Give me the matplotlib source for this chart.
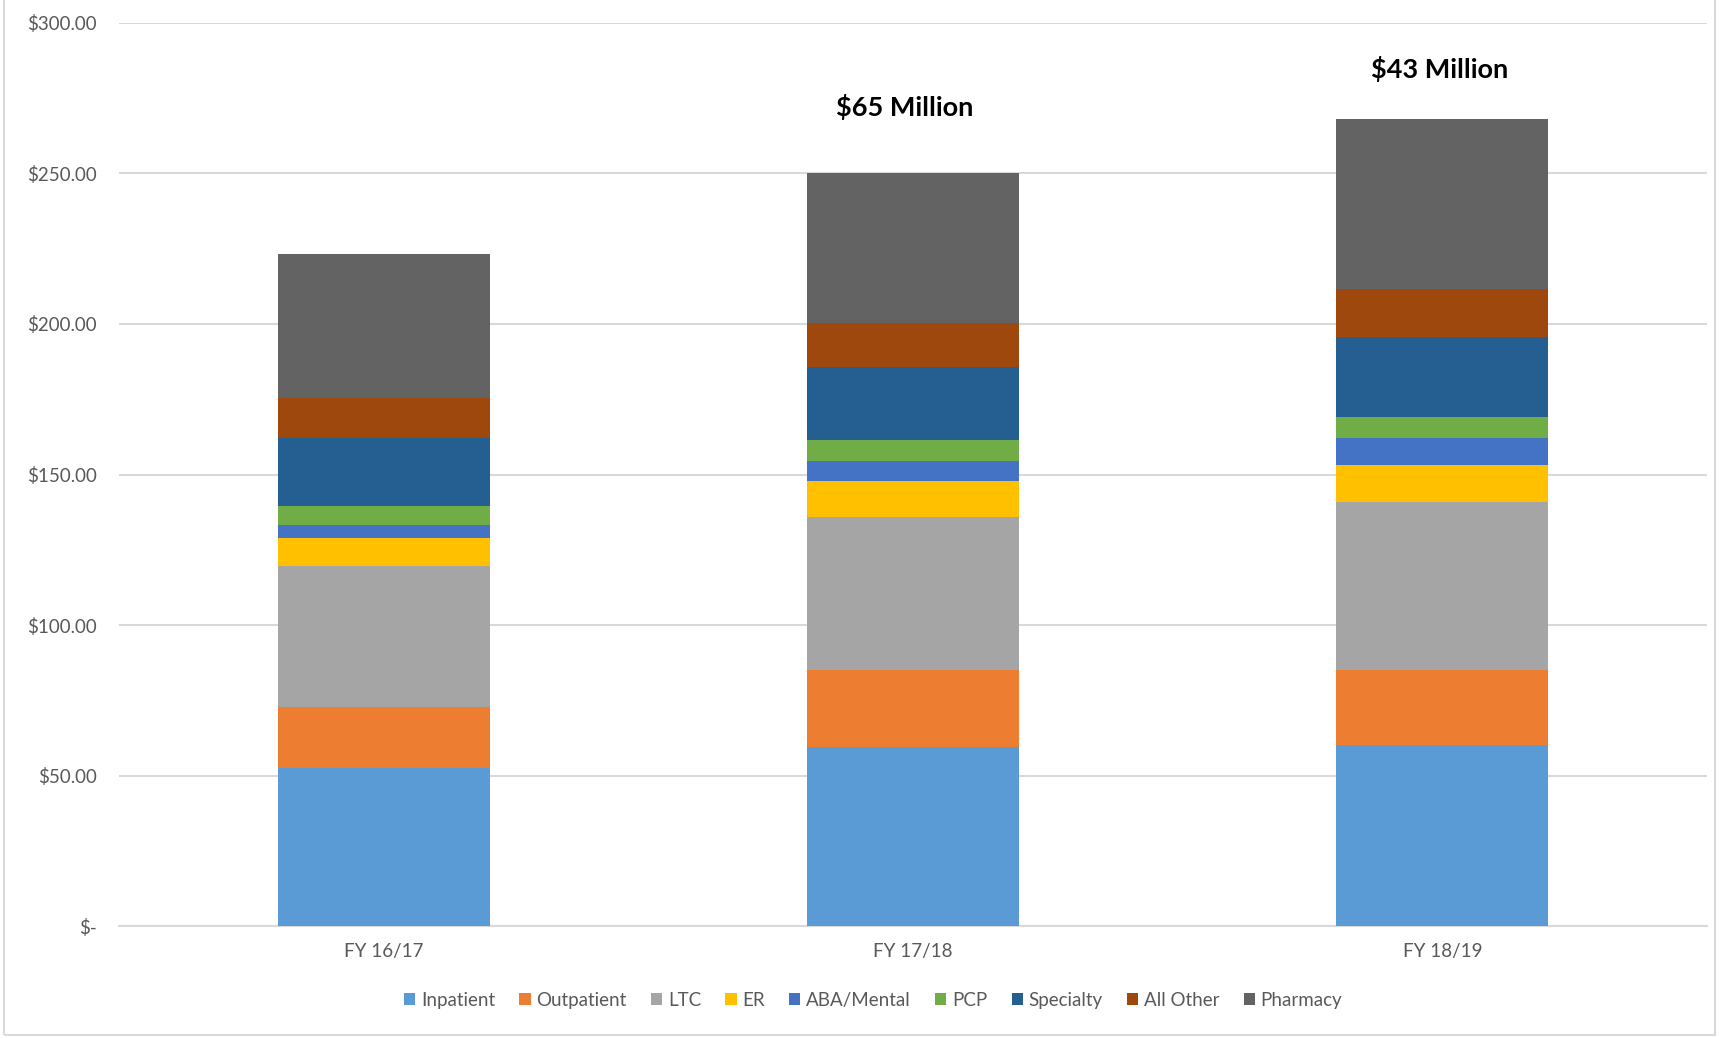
import matplotlib
matplotlib.use("Agg")
import matplotlib.pyplot as plt
from matplotlib.patches import Rectangle
import numpy as np

plt.rcParams['font.family'] = ['Lato', 'DejaVu Sans']

# Data (millions of $)
years = ['FY 16/17', 'FY 17/18', 'FY 18/19']
categories = ['Inpatient', 'Outpatient', 'LTC', 'ER', 'ABA/Mental',
              'PCP', 'Specialty', 'All Other', 'Pharmacy']
inpatient = [52.5, 59.5, 60.2]
outpatient = [20.4, 25.7, 25.0]
ltc = [46.7, 50.8, 55.6]
er = [9.3, 11.8, 12.2]
aba_mental = [4.5, 6.8, 9.1]
pcp = [6.3, 6.8, 7.0]
specialty = [22.3, 24.2, 26.5]
all_other = [13.5, 14.8, 16.0]
pharmacy = [47.7, 49.6, 56.5]
series = [inpatient, outpatient, ltc, er, aba_mental, pcp, specialty,
          all_other, pharmacy]
colors = ['#5B9BD5', '#ED7D31', '#A5A5A5', '#FFC000', '#4472C4',
          '#70AD47', '#255E91', '#9E480E', '#636363']

# growth labels above bars 2 and 3
growth_labels = ['$65 Million', '$43 Million']
growth_idx = [1, 2]
growth_y = [272, 284.5]
growth_dx = [-0.016, -0.006]

yticks = [0, 50, 100, 150, 200, 250, 300]
ytick_labels = ['$-', '$50.00', '$100.00', '$150.00', '$200.00',
                '$250.00', '$300.00']

fig = plt.figure(figsize=(17.29, 10.38), dpi=100)
ax = fig.add_axes([0.0688, 0.1076, 0.9185, 0.8705])

x = np.arange(len(years))
bottom = np.zeros(len(years))
for name, vals, col in zip(categories, series, colors):
    ax.bar(x, vals, width=0.4, bottom=bottom, color=col, label=name,
           zorder=3)
    bottom += np.array(vals)

for lab, i, yv, dx in zip(growth_labels, growth_idx, growth_y, growth_dx):
    ax.text(x[i] + dx, yv, lab, ha='center', va='center',
            fontsize=19.5, fontweight='bold', color='black')

ax.set_xlim(-0.5, 2.5)
ax.set_ylim(0, 300)
ax.set_yticks(yticks)
ax.set_yticklabels(ytick_labels)
ax.set_xticks(x)
ax.set_xticklabels(years)
ax.tick_params(axis='both', length=0, labelsize=13.5, colors='#595959')
ax.tick_params(axis='y', pad=16)
ax.tick_params(axis='x', pad=12)
ax.grid(axis='y', color='#d9d9d9', linewidth=1.5, zorder=0)
for s in ['top', 'right', 'left']:
    ax.spines[s].set_visible(False)
ax.spines['bottom'].set_color('#d9d9d9')
ax.spines['bottom'].set_linewidth(1.5)

leg = fig.legend(loc='center', bbox_to_anchor=(0.505, 0.0366), ncol=9,
                 frameon=False, fontsize=13.5, handlelength=0.6,
                 handleheight=0.6, handletextpad=0.3, columnspacing=1.3)
for t in leg.get_texts():
    t.set_color('#595959')

# light border around the chart area
fig.patches.append(Rectangle((4 / 1729, 3 / 1038), 1711 / 1729, 1.1,
                             transform=fig.transFigure, fill=False,
                             edgecolor='#d9d9d9', linewidth=1.5))

plt.savefig('out.png', dpi=100)
